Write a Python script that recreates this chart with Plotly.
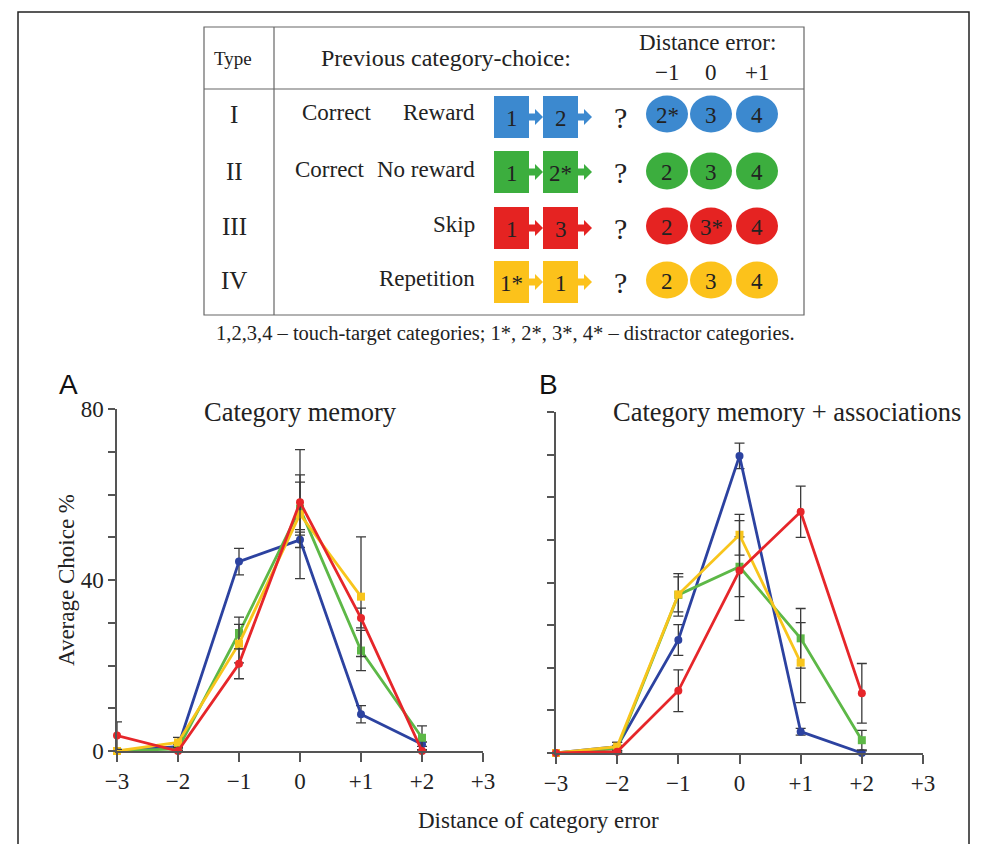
import plotly.graph_objects as go

W, H = 990, 844

# ---------------- data ----------------
dist = [-3, -2, -1, 0, 1, 2]
x_tickvals = [-3, -2, -1, 0, 1, 2, 3]
x_ticktext = ["−3", "−2", "−1", "0", "+1", "+2", "+3"]
y_tickvals = [0, 10, 20, 30, 40, 50, 60, 70, 80]
y_ticktext_A = ["0", "", "", "", "40", "", "", "", "80"]
y_ticktext_B = [""] * 9

series_names = ["Type I", "Type II", "Type III", "Type IV"]

# Panel A: Category memory
blue_A = [0, 1.0, 44.3, 49.4, 8.6, 1.6]
blue_A_err = [0, 0.5, 3.1, 1.8, 2.0, 0.5]
green_A = [0, 0.5, 27.6, 56.7, 23.5, 3.1]
green_A_err = [0, 0.5, 3.7, 6.2, 4.7, 2.8]
yellow_A = [0, 2.0, 25.1, 55.4, 36.1, None]
yellow_A_err = [0, 1.2, 4.5, 15.1, 14.0, None]
red_A = [3.6, 0, 20.4, 58.2, 31.1, 0]
red_A_err = [3.2, 0, 3.5, 6.4, 2.3, 0]

# Panel B: Category memory + associations
blue_B = [0, 1.5, 26.5, 69.7, 5.0, 0]
blue_B_err = [0, 1.0, 3.6, 3.0, 0.8, 0.5]
green_B = [0, 1.0, 37.1, 43.7, 26.9, 3.0]
green_B_err = [0, 0.8, 5.0, 7.0, 7.0, 2.3]
yellow_B = [0, 1.5, 37.2, 51.2, 21.2, None]
yellow_B_err = [0, 1.0, 4.1, 4.8, 9.4, None]
red_B = [0, 0.3, 14.6, 42.8, 56.6, 14.0]
red_B_err = [0, 0.3, 4.9, 11.7, 6.0, 7.0]

# Table content
row_types = ["I", "II", "III", "IV"]
row_desc_left = ["Correct", "Correct", "", ""]
row_desc_right = ["Reward", "No reward", "Skip", "Repetition"]
prev_labels = [["1", "2"], ["1", "2*"], ["1", "3"], ["1*", "1"]]
option_labels = [["2*", "3", "4"], ["2", "3", "4"], ["2", "3*", "4"], ["2", "3", "4"]]
dist_header = ["−1", "0", "+1"]
caption = "1,2,3,4 – touch-target categories; 1*, 2*, 3*, 4* – distractor categories."

# ---------------- style ----------------
SERIF = "Liberation Serif"
SANS = "Liberation Sans"
line_cols = {"blue": "#2C42A0", "green": "#5DB847", "yellow": "#F8C51C", "red": "#E6262A"}
table_cols = ["#3C89CF", "#3CAE3E", "#E52322", "#FCC21B"]
AX = "#555555"
TXT = "#222222"

fig = go.Figure()

def add_series(y, err, col, sym, xa, ya, name):
    fig.add_trace(go.Scatter(
        x=dist, y=y, mode="lines+markers", name=name, showlegend=False,
        line=dict(color=col, width=2.8),
        marker=dict(color=col, size=8, symbol=sym),
        error_y=dict(type="data", array=err, visible=True, color="#3a3a3a", thickness=1.3, width=5),
        xaxis=xa, yaxis=ya, cliponaxis=False, connectgaps=False))

for xa, ya, data in [("x", "y", [(blue_A, blue_A_err, "blue", "circle"), (green_A, green_A_err, "green", "square"),
                                  (yellow_A, yellow_A_err, "yellow", "square"), (red_A, red_A_err, "red", "circle")]),
                     ("x2", "y2", [(blue_B, blue_B_err, "blue", "circle"), (green_B, green_B_err, "green", "square"),
                                    (yellow_B, yellow_B_err, "yellow", "square"), (red_B, red_B_err, "red", "circle")])]:
    for i, (y, e, c, s) in enumerate(data):
        add_series(y, e, line_cols[c], s, xa, ya, series_names[i])

# dummy trace for pixel overlay axes
fig.add_trace(go.Scatter(x=[None], y=[None], xaxis="x3", yaxis="y3", showlegend=False, hoverinfo="skip"))

xcommon = dict(range=[-3, 3], tickvals=x_tickvals, ticktext=x_ticktext, showgrid=False, zeroline=False,
               showline=True, linecolor=AX, linewidth=1.5, ticks="outside", ticklen=9, tickcolor=AX, tickwidth=1.5,
               tickfont=dict(family=SERIF, size=23, color=TXT), fixedrange=True, automargin=False)
ycommon = dict(range=[0, 80], tickvals=y_tickvals, showgrid=False, zeroline=False,
               showline=True, linecolor=AX, linewidth=1.5, ticks="outside", ticklen=7, tickcolor=AX, tickwidth=1.5,
               tickfont=dict(family=SERIF, size=23, color=TXT), fixedrange=True, automargin=False)

fig.update_layout(
    width=W, height=H, autosize=False,
    margin=dict(l=0, r=0, t=0, b=0, pad=0, autoexpand=False),
    paper_bgcolor="white", plot_bgcolor="rgba(0,0,0,0)",
    showlegend=False,
    xaxis=dict(domain=[117 / W, 483 / W], anchor="y", **xcommon),
    yaxis=dict(domain=[1 - 751 / H, 1 - 409 / H], anchor="x", ticktext=y_ticktext_A, **ycommon),
    xaxis2=dict(domain=[556 / W, 923 / W], anchor="y2", **xcommon),
    yaxis2=dict(domain=[1 - 753 / H, 1 - 412 / H], anchor="x2", ticktext=y_ticktext_B, **ycommon),
    xaxis3=dict(domain=[0, 1], range=[0, W], visible=False, anchor="y3", fixedrange=True, automargin=False),
    yaxis3=dict(domain=[0, 1], range=[H, 0], visible=False, anchor="x3", fixedrange=True, automargin=False),
)

shapes = []
ann = []

def text(x, y, s, size, family=SERIF, color=TXT, xanchor="center", angle=0):
    ann.append(dict(x=x, y=y, xref="x3", yref="y3", text=s, showarrow=False, xanchor=xanchor, yanchor="middle",
                    font=dict(family=family, size=size, color=color), textangle=angle))

# outer frame
shapes.append(dict(type="path", xref="x3", yref="y3", path="M 18 844 L 18 12 L 969 12 L 969 844",
                   line=dict(color="#222", width=1.5)))

# table frame
TL, TR, TT, TB = 204, 804, 27, 315
shapes.append(dict(type="rect", xref="x3", yref="y3", x0=TL, x1=TR, y0=TT, y1=TB, line=dict(color="#666", width=1.2)))
shapes.append(dict(type="line", xref="x3", yref="y3", x0=TL, x1=TR, y0=89, y1=89, line=dict(color="#666", width=1.2)))
shapes.append(dict(type="line", xref="x3", yref="y3", x0=274, x1=274, y0=TT, y1=TB, line=dict(color="#666", width=1.2)))

# headers
text(233, 58, "Type", 19)
text(446, 58, "Previous category-choice:", 24)
text(707, 42, "Distance error:", 23)
circ_x = [667, 711, 757]
for cx, s in zip(circ_x, dist_header):
    text(cx, 72, s, 23)

row_cy = [114, 171, 226, 280]
sq_cy = [117, 172, 228, 282]
sq_x = [494, 543]
SQW, SQH = 35, 42

for i in range(4):
    col = table_cols[i]
    cy = row_cy[i]
    text(234, cy, row_types[i], 25)
    if row_desc_left[i]:
        text(300 if i == 0 else 293, cy - 2, row_desc_left[i], 23, xanchor="left")
    text(477, cy - 2, row_desc_right[i], 23, xanchor="right")
    sy = sq_cy[i]
    for k, L in enumerate(sq_x):
        R = L + SQW
        T = sy - SQH / 2
        B = sy + SQH / 2
        p = (f"M {L} {T} L {R} {T} L {R} {sy-3.5} L {R+6} {sy-3.5} L {R+6} {sy-8} L {R+14} {sy} "
             f"L {R+6} {sy+8} L {R+6} {sy+3.5} L {R} {sy+3.5} L {R} {B} L {L} {B} Z")
        shapes.append(dict(type="path", xref="x3", yref="y3", path=p, fillcolor=col, line=dict(width=0)))
        text(L + SQW / 2, sy + 1, prev_labels[i][k], 23)
    text(620, sy, "?", 30)
    for k, cx in enumerate(circ_x):
        shapes.append(dict(type="circle", xref="x3", yref="y3", x0=cx - 21, x1=cx + 21, y0=cy - 18.5, y1=cy + 18.5,
                           fillcolor=col, line=dict(width=0)))
        text(cx, cy + 1, option_labels[i][k], 23)

text(505, 333, caption, 20.5)

# panel labels and titles
text(68, 384, "A", 28, family=SANS, color="#111")
text(548, 384, "B", 28, family=SANS, color="#111")
text(300, 412, "Category memory", 26.5)
text(787, 412, "Category memory + associations", 26.5)
text(66, 580, "Average Choice %", 23, angle=-90)
text(538, 820, "Distance of category error", 23)

fig.update_layout(shapes=shapes, annotations=ann)
fig.write_html("out.html")
